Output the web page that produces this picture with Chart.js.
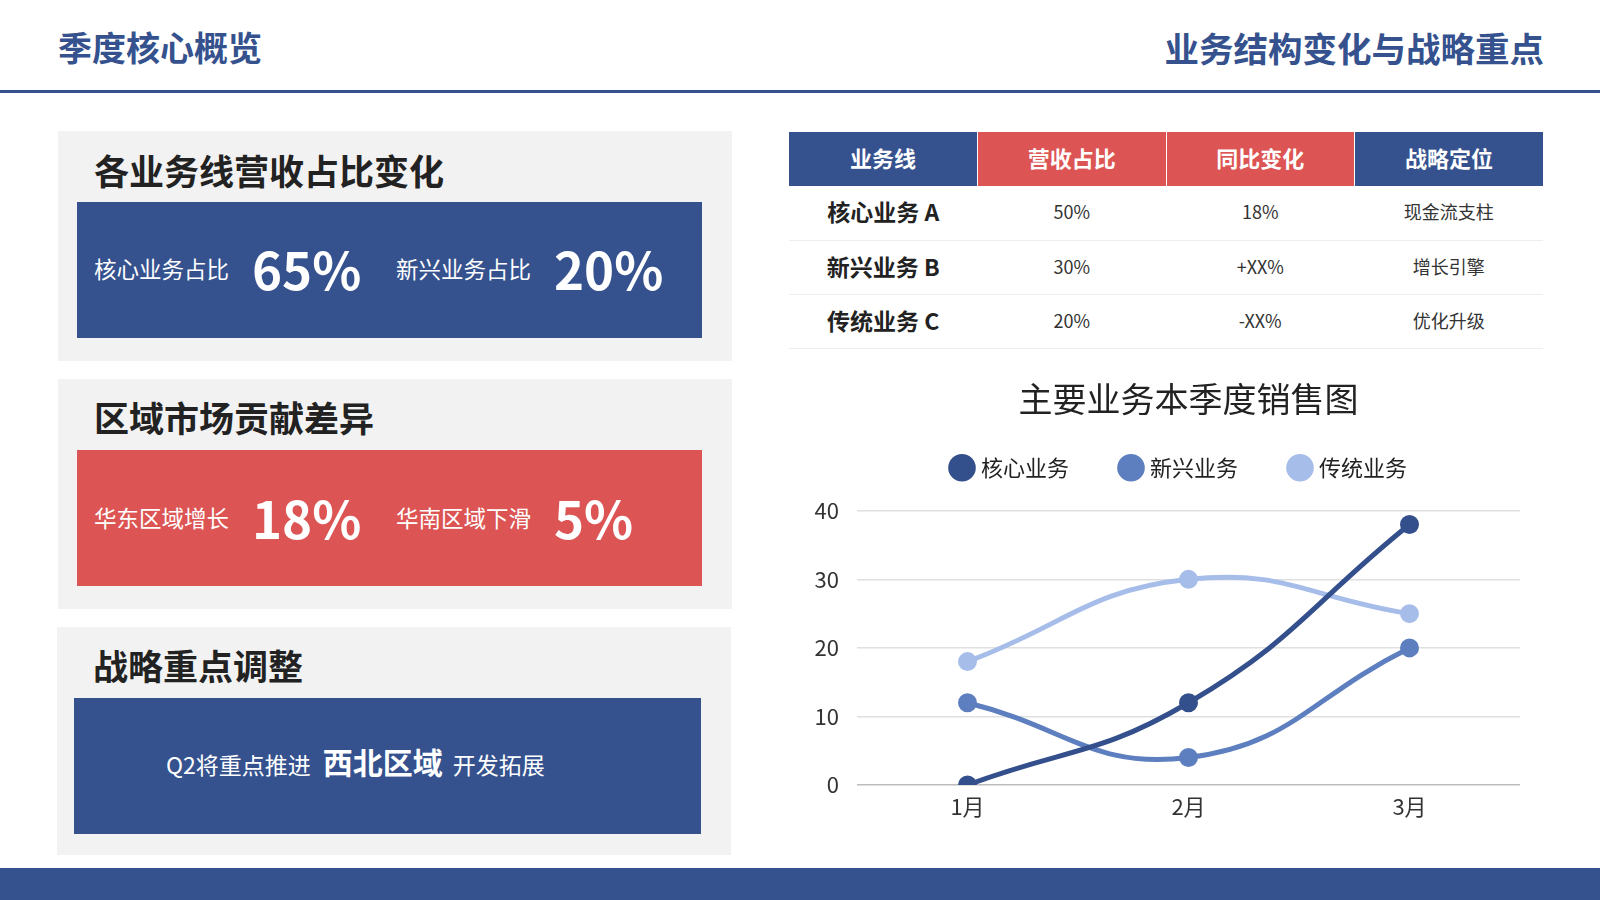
<!DOCTYPE html>
<html lang="zh">
<head>
<meta charset="utf-8">
<script src="https://cdn.jsdelivr.net/npm/chart.js@4"></script>
<style>
  html, body { margin: 0; padding: 0; }
  body {
    width: 1600px; height: 900px; overflow: hidden; position: relative;
    background: #fff; font-family: "Noto Sans CJK SC", "Noto Sans", sans-serif; color: #222;
  }
  .abs { position: absolute; }
  .head { top: 23px; font-size: 34px; font-weight: bold; color: #35528e; line-height: 48px; }
  .rule { left: 0; top: 90px; width: 1600px; height: 3px; background: #35528e; }
  .foot { left: 0; top: 868px; width: 1600px; height: 32px; background: #35528e; }
  .panel { background: #f2f2f2; }
  .panel h2 { position: absolute; left: 36px; margin: 0; font-size: 35px; font-weight: bold; line-height: 44px; color: #222; }
  .box { position: absolute; color: #fff; }
  .lab { position: absolute; font-size: 22.5px; line-height: 30px; }
  .big { position: absolute; font-size: 51px; font-weight: bold; line-height: 64px; }
  table { border-collapse: collapse; table-layout: fixed; }
  th { height: 54px; color: #fff; font-size: 22px; font-weight: bold; border-left: 1px solid #fff; padding: 0 0 4px 0; box-sizing: border-box; }
  th:first-child { border-left: none; }
  td { height: 54px; text-align: center; font-size: 18px; color: #333; border-bottom: 1px solid #eeeeee; padding: 0 0 3px 0; box-sizing: border-box; }
  td.name { font-size: 23px; font-weight: bold; color: #222; }
</style>
</head>
<body>
<div class="abs head" style="left:58px;">季度核心概览</div>
<div class="abs head" style="right:56px;font-size:34.5px;">业务结构变化与战略重点</div>
<div class="abs rule"></div>

<div class="abs panel" style="left:58px;top:131px;width:674px;height:230px;">
  <h2 style="top:17px;">各业务线营收占比变化</h2>
  <div class="box" style="left:19px;top:71px;width:625px;height:136px;background:#35528e;">
    <span class="lab" style="left:17px;top:51px;">核心业务占比</span>
    <span class="big" style="left:175px;top:34px;">65%</span>
    <span class="lab" style="left:319px;top:51px;">新兴业务占比</span>
    <span class="big" style="left:477px;top:34px;">20%</span>
  </div>
</div>

<div class="abs panel" style="left:58px;top:379px;width:674px;height:230px;">
  <h2 style="top:16px;">区域市场贡献差异</h2>
  <div class="box" style="left:19px;top:71px;width:625px;height:136px;background:#dc5453;">
    <span class="lab" style="left:17px;top:52px;">华东区域增长</span>
    <span class="big" style="left:175px;top:35px;">18%</span>
    <span class="lab" style="left:319px;top:52px;">华南区域下滑</span>
    <span class="big" style="left:477px;top:35px;">5%</span>
  </div>
</div>

<div class="abs panel" style="left:57px;top:627px;width:674px;height:228px;">
  <h2 style="top:16px;">战略重点调整</h2>
  <div class="box" style="left:17px;top:71px;width:627px;height:136px;background:#35528e;">
    <div style="position:absolute;left:92px;top:39px;line-height:48px;white-space:nowrap;">
      <span style="font-size:23px;">Q2将重点推进</span><span style="font-size:30px;font-weight:bold;margin-left:12px;">西北区域</span><span style="font-size:23px;margin-left:10px;">开发拓展</span>
    </div>
  </div>
</div>

<table class="abs" id="tbl" style="left:789px;top:132px;width:754px;">
  <colgroup><col><col><col><col></colgroup>
  <thead><tr id="thead"></tr></thead>
  <tbody id="tbody"></tbody>
</table>

<div class="abs" style="left:789px;top:360px;width:754px;height:470px;">
  <canvas id="salesChart"></canvas>
</div>

<div class="abs foot"></div>

<script>
// table
const tableHeaders = ['业务线', '营收占比', '同比变化', '战略定位']
const headerColors = ['#35528e', '#dc5453', '#dc5453', '#35528e']
const businessLines = ['核心业务 A', '新兴业务 B', '传统业务 C']
const revenueShare = ['50%', '30%', '20%']
const yoyChange = ['18%', '+XX%', '-XX%']
const positioning = ['现金流支柱', '增长引擎', '优化升级']

// chart
const chartTitle = '主要业务本季度销售图'
const months = ['1月', '2月', '3月']
const seriesNames = ['核心业务', '新兴业务', '传统业务']
const coreSales = [0, 12, 38]
const emergingSales = [12, 4, 20]
const legacySales = [18, 30, 25]
const seriesColors = ['#34508c', '#5d7fbf', '#a6bdea']

const thead = document.getElementById('thead')
thead.innerHTML = tableHeaders.map((h, i) => `<th style="background:${headerColors[i]}">${h}</th>`).join('')
const tbody = document.getElementById('tbody')
tbody.innerHTML = businessLines.map((name, i) => `
    <tr>
        <td class="name">${name}</td>
        <td>${revenueShare[i]}</td>
        <td>${yoyChange[i]}</td>
        <td>${positioning[i]}</td>
    </tr>`).join('')

// fixed legend height, and title/legend centred over the plot rather than the whole canvas
const headerBoxes = {
    id: 'headerBoxes',
    beforeInit(chart) {
        const fit = chart.legend.fit
        chart.legend.fit = function () {
            fit.bind(chart.legend)()
            this.height = 108
        }
    },
    afterLayout(chart) {
        chart.titleBlock.left = chart.chartArea.left
        chart.legend.left = chart.chartArea.left - 16
    }
}

const font = '"Noto Sans CJK SC", "Noto Sans", sans-serif'
const values = [coreSales, emergingSales, legacySales]

new Chart('salesChart', {
    type: 'line',
    data: {
        labels: months,
        datasets: seriesNames.map((name, i) => ({
            label: name,
            data: values[i],
            borderColor: seriesColors[i],
            backgroundColor: seriesColors[i],
            borderWidth: 5,
            pointRadius: 7,
            pointHoverRadius: 7,
            tension: 0.45
        }))
    },
    options: {
        responsive: true,
        maintainAspectRatio: false,
        animation: false,
        layout: {padding: {left: 0, right: 23, top: 0, bottom: 0}},
        plugins: {
            title: {
                display: true,
                text: chartTitle,
                color: '#222',
                font: {family: font, size: 34, weight: 'normal'},
                padding: {top: 19, bottom: -17}
            },
            legend: {
                labels: {
                    usePointStyle: true,
                    pointStyle: 'circle',
                    boxWidth: 16,
                    boxHeight: 16,
                    padding: 54,
                    color: '#222',
                    font: {family: font, size: 22}
                }
            },
            tooltip: {enabled: false}
        },
        scales: {
            x: {
                offset: true,
                grid: {display: false},
                border: {display: false},
                ticks: {color: '#333', padding: 0, font: {family: font, size: 22}},
                afterFit(scale) { scale.height = 45 }
            },
            y: {
                min: 0,
                max: 40,
                border: {display: false},
                grid: {
                    color: ctx => ctx.tick.value === 0 ? '#bdbdbd' : '#e0e0e0',
                    lineWidth: 1.5,
                    drawTicks: false
                },
                ticks: {stepSize: 10, color: '#333', padding: 18, font: {family: font, size: 22}},
                afterFit(scale) { scale.width = 68 }
            }
        }
    },
    plugins: [headerBoxes]
})
</script>
</body>
</html>
